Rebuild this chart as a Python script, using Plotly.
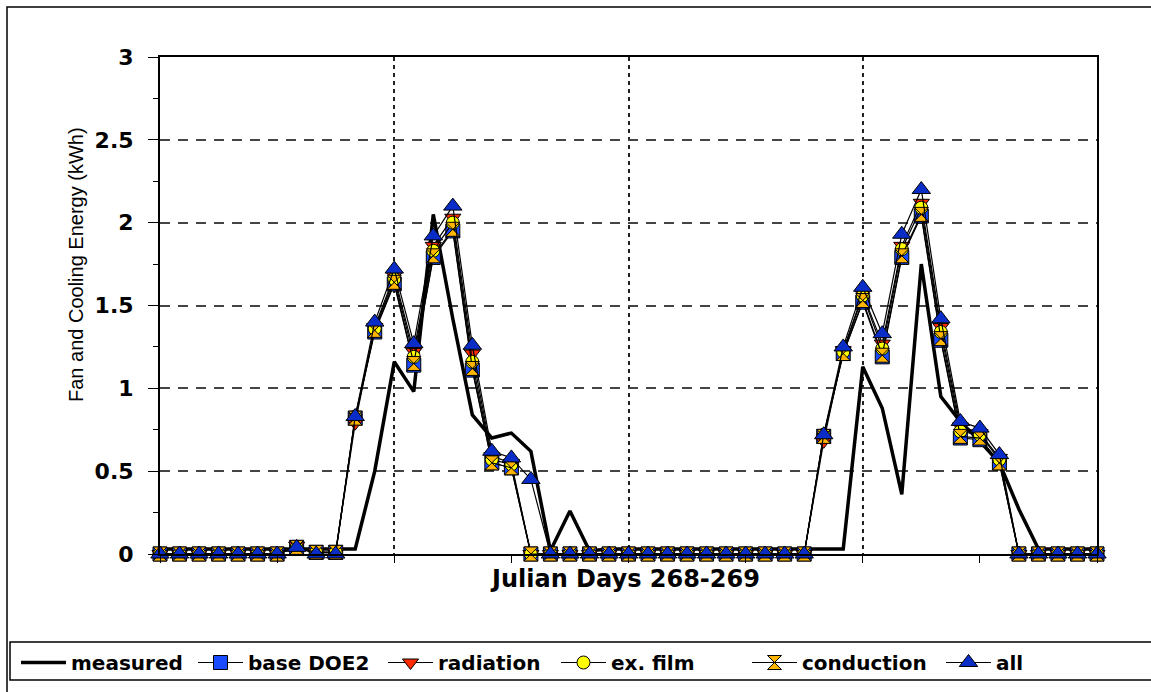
import plotly.graph_objects as go

# Hourly values, Julian days 268-269 (index 0..48)
HOURS = list(range(49))

MEASURED = [
    0.03, 0.03, 0.03, 0.03, 0.03, 0.03, 0.03, 0.03, 0.03, 0.03, 0.03, 0.50,
    1.16, 0.98, 2.05, 1.42, 0.84, 0.70, 0.73, 0.62, 0.02, 0.26, 0.02, 0.03,
    0.03, 0.03, 0.03, 0.03, 0.03, 0.03, 0.03, 0.03, 0.03, 0.03, 0.03, 0.03,
    1.13, 0.88, 0.36, 1.75, 0.95, 0.80, 0.68, 0.55, 0.27, 0.03, 0.03, 0.03,
    0.03,
]
BASE_DOE2 = [
    0, 0, 0, 0, 0, 0, 0, 0.04, 0.01, 0.01, 0.82, 1.34,
    1.63, 1.14, 1.79, 1.95, 1.11, 0.55, 0.52, 0, 0, 0, 0, 0,
    0, 0, 0, 0, 0, 0, 0, 0, 0, 0, 0.71, 1.21,
    1.52, 1.19, 1.79, 2.04, 1.29, 0.70, 0.69, 0.55, 0, 0, 0, 0,
    0,
]
RADIATION = [
    0, 0, 0, 0, 0, 0, 0, 0.05, 0.01, 0.01, 0.79, 1.37,
    1.68, 1.22, 1.86, 2.03, 1.21, 0.59, 0.55, 0, 0, 0, 0, 0,
    0, 0, 0, 0, 0, 0, 0, 0, 0, 0, 0.68, 1.23,
    1.57, 1.27, 1.86, 2.12, 1.37, 0.77, 0.73, 0.58, 0, 0, 0, 0,
    0,
]
EX_FILM = [
    0, 0, 0, 0, 0, 0, 0, 0.04, 0.01, 0.01, 0.83, 1.36,
    1.66, 1.19, 1.83, 2.00, 1.16, 0.57, 0.54, 0, 0, 0, 0, 0,
    0, 0, 0, 0, 0, 0, 0, 0, 0, 0, 0.72, 1.22,
    1.56, 1.24, 1.84, 2.09, 1.34, 0.74, 0.72, 0.57, 0, 0, 0, 0,
    0,
]
CONDUCTION = [
    0, 0, 0, 0, 0, 0, 0, 0.04, 0.01, 0.01, 0.82, 1.35,
    1.64, 1.15, 1.80, 1.96, 1.12, 0.55, 0.52, 0, 0, 0, 0, 0,
    0, 0, 0, 0, 0, 0, 0, 0, 0, 0, 0.71, 1.21,
    1.53, 1.20, 1.80, 2.05, 1.30, 0.71, 0.70, 0.55, 0, 0, 0, 0,
    0,
]
ALL = [
    0, 0, 0, 0, 0, 0, 0, 0.04, 0, 0, 0.83, 1.40,
    1.72, 1.27, 1.92, 2.10, 1.26, 0.62, 0.58, 0.45, 0, 0, 0, 0,
    0, 0, 0, 0, 0, 0, 0, 0, 0, 0, 0.72, 1.25,
    1.61, 1.33, 1.93, 2.20, 1.42, 0.80, 0.76, 0.60, 0, 0, 0, 0,
    0,
]

W, H = 1151, 692
L, R, T, B = 160, 54, 57, 138
PW, PH = W - L - R, H - T - B


def px(x):
    return (x - L) / PW


def py(y):
    return (H - B - y) / PH


SIM = [
    ("base DOE2", BASE_DOE2, "square", 14, "#1a4bff"),
    ("radiation", RADIATION, "triangle-down", 14, "#ff2a00"),
    ("ex. film", EX_FILM, "circle", 13, "#ffff00"),
    ("conduction", CONDUCTION, "hourglass", 14, "#ffb400"),
    ("all", ALL, "triangle-up", 16, "#0a2dc8"),
]
# left edge (px) of each legend entry, Excel-style fixed columns
LEGEND_X = [16, 193, 383, 556, 747, 941]
LEGEND_IDS = ["legend", "legend2", "legend3", "legend4", "legend5", "legend6"]

fig = go.Figure()
fig.add_trace(go.Scatter(
    x=HOURS, y=MEASURED, name="measured", mode="lines",
    line=dict(color="black", width=3.5), cliponaxis=False, legend=LEGEND_IDS[0],
))
for (name, vals, sym, size, color), lid in zip(SIM, LEGEND_IDS[1:]):
    fig.add_trace(go.Scatter(
        x=HOURS, y=vals, name=name, mode="lines+markers",
        line=dict(color="black", width=1.2),
        marker=dict(symbol=sym, size=size, color=color,
                    line=dict(color="black", width=1)),
        cliponaxis=False, legend=lid,
    ))

fig.update_xaxes(
    range=[0, 48], dtick=12, tick0=0, showticklabels=False,
    ticks="outside", ticklen=7, tickcolor="black",
    showgrid=True, gridcolor="#222", griddash="4px,4px", gridwidth=2,
    minor=dict(dtick=6, ticks="outside", ticklen=7, tickcolor="black", showgrid=False),
    showline=True, linecolor="black", linewidth=2, mirror=True, zeroline=False,
)
fig.update_yaxes(
    range=[0, 3], dtick=0.5, tick0=0,
    ticks="outside", ticklen=10, tickcolor="black", ticklabelstandoff=10,
    tickfont=dict(family="DejaVu Sans", size=22, color="black", weight="bold"),
    showgrid=True, gridcolor="#444", griddash="10px,8px", gridwidth=1.5,
    minor=dict(dtick=0.25, ticks="outside", ticklen=5, tickcolor="black", showgrid=False),
    showline=True, linecolor="black", linewidth=2, mirror=True, zeroline=False,
)

fig.add_annotation(
    text="Fan and Cooling Energy (kWh)", textangle=-90,
    x=px(76), y=py(265), xref="paper", yref="paper", showarrow=False,
    xanchor="center", yanchor="middle",
    font=dict(family="Liberation Sans, Arial", size=20, color="black"),
)
fig.add_annotation(
    text="Julian Days 268-269",
    x=px(625), y=py(579), xref="paper", yref="paper", showarrow=False,
    xanchor="center", yanchor="middle",
    font=dict(family="DejaVu Sans", size=24, color="black", weight="bold"),
)

# outer chart border and legend box
fig.add_shape(type="rect", xref="paper", yref="paper",
              x0=px(7), x1=px(1170), y0=py(7), y1=py(710),
              line=dict(color="black", width=1.5))
fig.add_shape(type="rect", xref="paper", yref="paper",
              x0=px(10), x1=px(1170), y0=py(642), y1=py(680),
              line=dict(color="black", width=1.5))

legend_style = dict(
    xanchor="left", yanchor="top", y=py(643),
    font=dict(family="DejaVu Sans", size=20, color="black", weight="bold"),
    itemwidth=45, bgcolor="rgba(0,0,0,0)", borderwidth=0,
)
fig.update_layout(
    width=W, height=H,
    margin=dict(l=L, r=R, t=T, b=B, autoexpand=False),
    paper_bgcolor="white", plot_bgcolor="white",
    showlegend=True,
    **{lid: dict(legend_style, x=px(lx)) for lid, lx in zip(LEGEND_IDS, LEGEND_X)},
)

fig.write_html(
    "out.html",
    config={"displayModeBar": False},
    post_script="document.body.style.margin='0';",
)
